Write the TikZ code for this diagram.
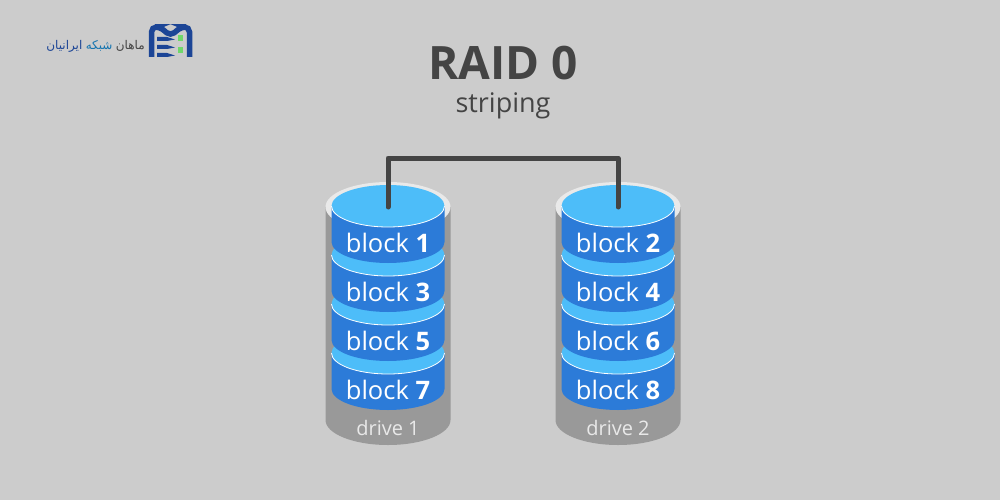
\documentclass[tikz,border=0pt]{standalone}
\usepackage{fontspec}
\setmainfont{Open Sans}
\newfontfamily\arabicfont[Script=Arabic]{DejaVu Sans}
\TeXXeTstate=1
\usepackage{xcolor}
\usetikzlibrary{positioning}
\definecolor{bg}{HTML}{CCCCCC}
\definecolor{drivegr}{HTML}{999999}
\definecolor{rim}{HTML}{E9E9E9}
\definecolor{diskside}{HTML}{2C7BD8}
\definecolor{disktop}{HTML}{4DBDF9}
\definecolor{wire}{HTML}{444444}
\definecolor{logoblue}{HTML}{1C4596}
\definecolor{logogreen}{HTML}{6FD86A}
\tikzset{
blocktext/.style={white, font=\fontsize{25.5}{30}\selectfont, inner sep=0pt},
drivetext/.style={rim, font=\fontsize{20}{24}\selectfont, inner sep=0pt},
logotext/.style={font=\arabicfont\fontsize{12}{14}\selectfont, inner sep=0pt},
wireline/.style={wire, line width=5pt, line cap=round, line join=round},
logoline/.style={logoblue, line width=5.5pt, rounded corners=5pt}
}
\begin{document}
\begin{tikzpicture}[x=1pt, y=-1pt]
\useasboundingbox (0,0) rectangle (1000,500);
\fill[bg] (0,0) rectangle (1000,500);
\node[text=wire, font=\fontsize{46}{50}\selectfont\bfseries, inner sep=0pt] (title) at (503,63) {RAID 0};
\node[text=wire, font=\fontsize{27}{30}\selectfont, inner sep=0pt] (subtitle) at (503,106) {striping};
% drives
\foreach \cx/\dname/\dlabel/\blocks in {388/d1/drive 1/{7/3,5/2,3/1,1/0}, 618/d2/drive 2/{8/3,6/2,4/1,2/0}}{
\fill[drivegr] (\cx-62.5,207) -- (\cx-62.5,420) arc[start angle=180, end angle=360, x radius=62.5pt, y radius=25pt] -- (\cx+62.5,207) -- cycle;
\fill[rim] (\cx,207) ellipse[x radius=62.5pt, y radius=25pt];
\node[drivetext] (\dname) at (\cx,428) {\dlabel};
\foreach \b/\i in \blocks {
\pgfmathsetmacro{\cy}{206+49*\i}
\fill[diskside] (\cx-56.5,\cy) -- (\cx-56.5,\cy+36) arc[start angle=180, end angle=360, x radius=56.5pt, y radius=21pt] -- (\cx+56.5,\cy) -- cycle;
\fill[disktop] (\cx,\cy) ellipse[x radius=56.5pt, y radius=21pt];
\draw[white, line width=0.8pt] (\cx-56.5,\cy) arc[start angle=180, end angle=360, x radius=56.5pt, y radius=21pt];
\node[blocktext] (block\b) at (\cx,\cy+37) {block \textbf{\b}};
}
\coordinate (\dname top) at (\cx,207);
}
\draw[wireline] (d1top) -- (388,158) -- (618,158) -- (d2top);
% logo
\node[logotext, text=wire, anchor=east] (logoa) at (145,46) {\beginR ماهان\endR};
\node[logotext, text=logoblue!75!cyan, left=3pt of logoa] (logob) {\beginR شبکه\endR};
\node[logotext, text=logoblue, left=3pt of logob] (logoc) {\beginR ایرانیان\endR};
\draw[logoline] (151.5,57) -- (151.5,27) -- (160,27) -- (170.5,36) -- (181,27) -- (189.5,27) -- (189.5,57);
\foreach \y in {37,45,53}{
\fill[logoblue] (157,\y) -- (167,\y) -- (175,\y+2.5) -- (167,\y+4) -- (157,\y+4) -- cycle;
}
\foreach \y in {35,47}{
\fill[logogreen] (178,\y) rectangle (183,\y+6);
}
\end{tikzpicture}
\end{document}
